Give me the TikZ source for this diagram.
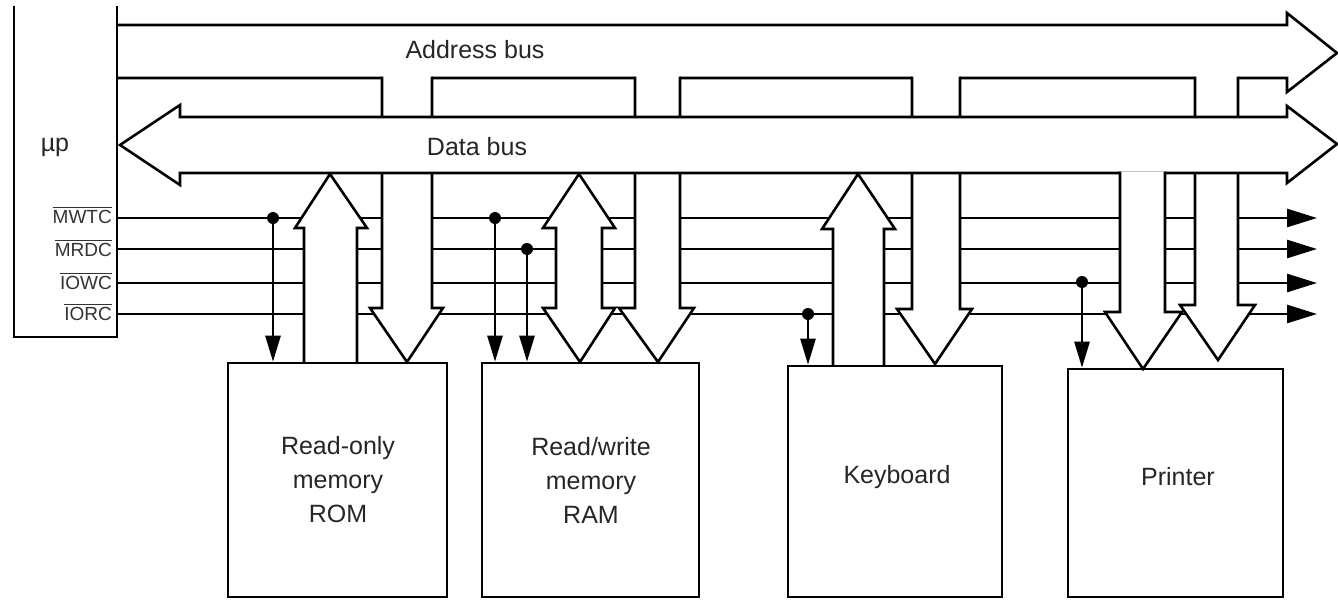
\documentclass[tikz,border=0pt]{standalone}
\usepackage{fontspec}
\setmainfont{Liberation Sans}
\usetikzlibrary{arrows.meta}
\newcommand\barsig[1]{\vbox{\hrule height 1.5pt\kern1.6pt\hbox{#1}}}
\begin{document}
\begin{tikzpicture}[x=1pt,y=-1pt,
  ln/.style={line width=2.6pt, line join=miter, line cap=butt, draw=black},
  busshape/.style={ln, fill=white},
  devbox/.style={draw, line width=2.6pt, inner sep=0pt},
  devlab/.style={align=center, inner sep=0pt, text=black!85, font=\fontsize{25}{34}\selectfont},
  ctlline/.style={ln, -{Triangle[length=30pt,width=18pt]}},
  tap/.style={ln, -{Triangle[length=26pt,width=15pt]}},
  tapdot/.style={fill, circle, inner sep=0pt, minimum size=12pt},
  siglab/.style={anchor=base east, inner sep=0pt, text=black!80,
    font=\fontsize{19}{19}\selectfont},
  buslab/.style={inner sep=0pt, text=black!85, font=\fontsize{25}{25}\selectfont}
]
\useasboundingbox (0,0) rectangle (1338,600);

% ---------- control lines ----------
\coordinate (w) at (117,218);
\coordinate (r) at (117,249);
\coordinate (iw) at (117,283);
\coordinate (ir) at (117,314);
\coordinate (wE) at (1317,218);
\coordinate (rE) at (1317,249);
\coordinate (iwE) at (1317,283);
\coordinate (irE) at (1317,314);
\draw[ctlline] (w) -- (wE);
\draw[ctlline] (r) -- (rE);
\draw[ctlline] (iw) -- (iwE);
\draw[ctlline] (ir) -- (irE);

% ---------- address bus ----------
\draw[busshape] (117,25) -- (1287,25) -- (1287,13) -- (1337,53) -- (1287,92) -- (1287,78) -- (117,78);
\node[buslab] (ab) at (475,50) {Address bus};

% address branches (down arrows)
\fill[white] (382,76) -- (382,308) -- (370,308) -- (407,362) -- (443,308) -- (432,308) -- (432,76) -- cycle;
\draw[ln] (382,76.7) -- (382,308) -- (370,308) -- (407,362) -- (443,308) -- (432,308) -- (432,76.7);
\fill[white] (635,76) -- (635,308) -- (619,308) -- (658,362) -- (694,308) -- (680,308) -- (680,76) -- cycle;
\draw[ln] (635,76.7) -- (635,308) -- (619,308) -- (658,362) -- (694,308) -- (680,308) -- (680,76.7);
\fill[white] (912,76) -- (912,309) -- (897,309) -- (935,364) -- (972,309) -- (960,309) -- (960,76) -- cycle;
\draw[ln] (912,76.7) -- (912,309) -- (897,309) -- (935,364) -- (972,309) -- (960,309) -- (960,76.7);
\fill[white] (1195,76) -- (1195,305) -- (1180,305) -- (1218,360) -- (1255,305) -- (1238,305) -- (1238,76) -- cycle;
\draw[ln] (1195,76.7) -- (1195,305) -- (1180,305) -- (1218,360) -- (1255,305) -- (1238,305) -- (1238,76.7);

% ---------- data bus ----------
\draw[busshape] (120,145) -- (180,105) -- (180,117) -- (1287,117) -- (1287,106) -- (1337,144)
  -- (1287,183) -- (1287,173) -- (180,173) -- (180,185) -- cycle;
\node[buslab] (db) at (477,147) {Data bus};

% data branches
\draw[ln, fill=white] (304,363) -- (304,228) -- (295,228) -- (330,174) -- (367,228) -- (357,228) -- (357,363);
\draw[ln, fill=white] (556,308) -- (556,228) -- (543,228) -- (579,174) -- (615,228) -- (602,228)
  -- (602,308) -- (615,308) -- (580,362) -- (543,308) -- cycle;
\draw[ln, fill=white] (833,366) -- (833,229) -- (822,229) -- (858,174) -- (895,229) -- (884,229) -- (884,366);
\fill[white] (1120,171.5) -- (1120,312) -- (1105,312) -- (1143,369) -- (1182,312) -- (1165,312) -- (1165,171.5) -- cycle;
\draw[ln] (1120,171.7) -- (1120,312) -- (1105,312) -- (1143,369) -- (1182,312) -- (1165,312) -- (1165,171.7);

% ---------- devices ----------
\node[devbox, minimum width=219pt, minimum height=234pt] (rom) at (337.5,480) {};
\node[devbox, minimum width=217pt, minimum height=234pt] (ram) at (590.5,480) {};
\node[devbox, minimum width=214pt, minimum height=231pt] (kbd) at (895,481.5) {};
\node[devbox, minimum width=215pt, minimum height=228pt] (prn) at (1175.5,483) {};
\node[devlab] (romt) at (338,480) {Read-only\\memory\\ROM};
\node[devlab] (ramt) at (591,480) {Read/write\\memory\\RAM};
\node[devlab] (kbdt) at (897,477) {Keyboard};
\node[devlab] (prnt) at (1178,477) {Printer};

% ---------- control taps ----------
\node[tapdot] (t1) at (273,218) {};
\node[tapdot] (t2) at (495,218) {};
\node[tapdot] (t3) at (527,249) {};
\node[tapdot] (t4) at (808,314) {};
\node[tapdot] (t5) at (1082,282) {};
\draw[tap] (t1.center) -- (t1.center |- rom.north);
\draw[tap] (t2.center) -- (t2.center |- ram.north);
\draw[tap] (t3.center) -- (t3.center |- ram.north);
\draw[tap] (t4.center) -- (t4.center |- kbd.north);
\draw[tap] (t5.center) -- (t5.center |- prn.north);

% ---------- microprocessor ----------
\draw[ln] (14,6) -- (14,337) -- (117,337) -- (117,6);
\node[inner sep=0pt, text=black!85, font=\fontsize{25}{25}\selectfont] (up) at (55,147) {µp};
\node[siglab] (lw) at (112,223) {\barsig{MWTC}};
\node[siglab] (lr) at (112,256) {\barsig{MRDC}};
\node[siglab] (liw) at (112,289) {\barsig{IOWC}};
\node[siglab] (lir) at (112,320) {\barsig{IORC}};
\end{tikzpicture}
\end{document}
